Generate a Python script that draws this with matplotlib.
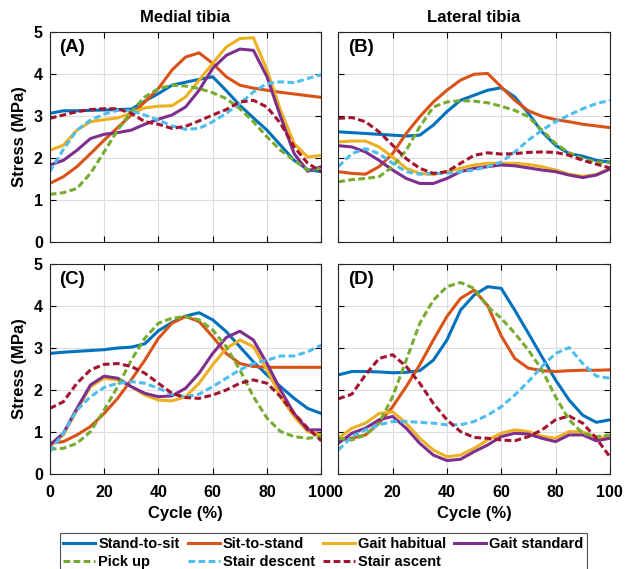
import matplotlib
matplotlib.use("Agg")
import matplotlib.pyplot as plt

plt.rcParams['font.family'] = ['Liberation Sans', 'DejaVu Sans']
plt.rcParams['font.weight'] = 'bold'

cycle = list(range(0, 101, 5))

names = ['Stand-to-sit', 'Sit-to-stand', 'Gait habitual', 'Gait standard',
         'Pick up', 'Stair descent', 'Stair ascent']
colors = ['#0072BD', '#D95319', '#EDB120', '#7E2F8E', '#77AC30', '#4DBEEE', '#A2142F']
styles = ['-', '-', '-', '-', '--', '--', '--']

# (A) medial tibia, top row
med_a = [
    [3.06, 3.12, 3.12, 3.13, 3.14, 3.15, 3.16, 3.35, 3.53, 3.73, 3.80, 3.87, 3.93, 3.60, 3.25, 2.95, 2.66, 2.30, 1.94, 1.72, 1.67],
    [1.39, 1.55, 1.79, 2.10, 2.42, 2.72, 3.02, 3.33, 3.65, 4.09, 4.40, 4.50, 4.25, 3.93, 3.73, 3.66, 3.61, 3.56, 3.52, 3.48, 3.44],
    [2.18, 2.30, 2.66, 2.86, 2.91, 2.95, 3.06, 3.19, 3.23, 3.24, 3.45, 3.85, 4.25, 4.64, 4.84, 4.86, 4.09, 3.13, 2.34, 2.02, 2.06],
    [1.83, 1.94, 2.18, 2.46, 2.56, 2.60, 2.66, 2.80, 2.92, 3.02, 3.21, 3.61, 4.13, 4.44, 4.59, 4.56, 3.93, 2.98, 2.10, 1.68, 1.79],
    [1.13, 1.17, 1.27, 1.63, 2.14, 2.66, 3.10, 3.45, 3.65, 3.73, 3.71, 3.65, 3.55, 3.41, 3.17, 2.86, 2.50, 2.18, 1.94, 1.71, 1.75],
    [1.67, 2.20, 2.66, 2.90, 3.04, 3.13, 3.12, 3.02, 2.90, 2.76, 2.68, 2.70, 2.86, 3.06, 3.29, 3.57, 3.77, 3.81, 3.79, 3.89, 3.98],
    [2.94, 3.02, 3.10, 3.15, 3.17, 3.17, 3.06, 2.86, 2.80, 2.70, 2.75, 2.88, 3.02, 3.15, 3.33, 3.37, 3.21, 2.82, 2.26, 1.87, 1.67],
]

# (B) lateral tibia, top row
lat_b = [
    [2.62, 2.60, 2.58, 2.56, 2.54, 2.52, 2.54, 2.78, 3.10, 3.37, 3.49, 3.61, 3.67, 3.45, 3.06, 2.62, 2.30, 2.10, 2.04, 1.94, 1.90],
    [1.67, 1.63, 1.61, 1.79, 2.10, 2.58, 2.98, 3.33, 3.61, 3.85, 3.99, 4.01, 3.69, 3.37, 3.12, 2.99, 2.91, 2.86, 2.80, 2.76, 2.72],
    [2.38, 2.40, 2.40, 2.26, 2.02, 1.75, 1.63, 1.60, 1.67, 1.75, 1.83, 1.87, 1.87, 1.87, 1.84, 1.79, 1.71, 1.61, 1.56, 1.60, 1.75],
    [2.29, 2.26, 2.14, 1.94, 1.71, 1.51, 1.39, 1.39, 1.51, 1.67, 1.75, 1.79, 1.83, 1.81, 1.76, 1.71, 1.67, 1.59, 1.53, 1.59, 1.73],
    [1.43, 1.48, 1.51, 1.55, 1.79, 2.18, 2.74, 3.21, 3.33, 3.36, 3.35, 3.31, 3.23, 3.13, 2.98, 2.66, 2.34, 2.12, 1.98, 1.90, 1.88],
    [1.79, 2.10, 2.22, 2.10, 1.87, 1.67, 1.61, 1.63, 1.63, 1.67, 1.71, 1.79, 1.90, 2.14, 2.42, 2.66, 2.86, 3.02, 3.17, 3.29, 3.37],
    [2.94, 2.96, 2.86, 2.62, 2.30, 1.98, 1.75, 1.63, 1.67, 1.87, 2.06, 2.12, 2.09, 2.10, 2.13, 2.14, 2.13, 2.06, 1.94, 1.85, 1.76],
]

# (C) medial tibia, bottom row
med_c = [
    [2.87, 2.90, 2.92, 2.94, 2.96, 3.00, 3.02, 3.10, 3.41, 3.61, 3.76, 3.84, 3.67, 3.39, 3.03, 2.67, 2.36, 2.08, 1.80, 1.56, 1.44],
    [0.73, 0.77, 0.93, 1.13, 1.44, 1.80, 2.24, 2.71, 3.23, 3.59, 3.75, 3.63, 3.27, 2.87, 2.63, 2.56, 2.54, 2.54, 2.54, 2.54, 2.54],
    [0.65, 0.93, 1.52, 2.08, 2.28, 2.24, 2.08, 1.88, 1.76, 1.74, 1.84, 2.16, 2.60, 2.99, 3.19, 3.03, 2.48, 1.84, 1.37, 1.01, 0.93],
    [0.69, 0.97, 1.56, 2.12, 2.33, 2.28, 2.08, 1.92, 1.84, 1.86, 2.04, 2.40, 2.87, 3.25, 3.40, 3.19, 2.63, 2.00, 1.44, 1.05, 1.05],
    [0.59, 0.61, 0.73, 1.01, 1.52, 2.08, 2.71, 3.23, 3.59, 3.71, 3.75, 3.67, 3.43, 3.03, 2.48, 1.84, 1.33, 1.01, 0.89, 0.85, 0.89],
    [0.53, 0.97, 1.52, 1.84, 2.06, 2.16, 2.20, 2.16, 2.04, 1.90, 1.84, 1.90, 2.08, 2.28, 2.48, 2.63, 2.71, 2.81, 2.81, 2.91, 3.07],
    [1.56, 1.72, 2.16, 2.48, 2.61, 2.63, 2.56, 2.40, 2.16, 1.92, 1.82, 1.80, 1.88, 2.00, 2.16, 2.24, 2.16, 1.84, 1.44, 1.09, 0.79],
]

# (D) lateral tibia, bottom row
lat_d = [
    [2.36, 2.44, 2.44, 2.43, 2.41, 2.42, 2.46, 2.71, 3.19, 3.90, 4.26, 4.46, 4.42, 3.90, 3.35, 2.79, 2.24, 1.76, 1.40, 1.23, 1.29],
    [0.81, 0.85, 0.93, 1.21, 1.60, 2.08, 2.60, 3.19, 3.75, 4.18, 4.38, 4.01, 3.29, 2.75, 2.52, 2.46, 2.44, 2.46, 2.47, 2.47, 2.48],
    [0.85, 1.09, 1.21, 1.44, 1.48, 1.21, 0.85, 0.57, 0.41, 0.45, 0.61, 0.81, 0.97, 1.05, 1.01, 0.90, 0.85, 1.01, 1.00, 0.87, 0.89],
    [0.73, 0.97, 1.09, 1.29, 1.37, 1.09, 0.73, 0.45, 0.32, 0.35, 0.53, 0.69, 0.89, 0.97, 0.95, 0.85, 0.77, 0.93, 0.93, 0.79, 0.85],
    [0.85, 0.81, 0.93, 1.21, 1.84, 2.71, 3.59, 4.14, 4.46, 4.56, 4.42, 3.98, 3.71, 3.35, 2.95, 2.48, 1.84, 1.29, 0.97, 0.89, 0.93],
    [0.57, 0.89, 1.05, 1.17, 1.25, 1.25, 1.23, 1.21, 1.17, 1.17, 1.25, 1.40, 1.60, 1.88, 2.20, 2.56, 2.87, 3.01, 2.63, 2.33, 2.28],
    [1.79, 1.90, 2.36, 2.75, 2.84, 2.56, 2.16, 1.68, 1.29, 1.01, 0.87, 0.85, 0.81, 0.79, 0.89, 1.05, 1.29, 1.38, 1.21, 0.85, 0.41],
]

panels = [med_a, lat_b, med_c, lat_d]
letters = ['(A)', '(B)', '(C)', '(D)']

fig = plt.figure(figsize=(6.3, 5.69), dpi=100)
rects = [
    [0.079, 0.575, 0.431, 0.369],
    [0.537, 0.575, 0.431, 0.369],
    [0.079, 0.167, 0.431, 0.369],
    [0.537, 0.167, 0.431, 0.369],
]

handles = []
for i, (data, rect) in enumerate(zip(panels, rects)):
    ax = fig.add_axes(rect)
    for j, series in enumerate(data):
        ln, = ax.plot(cycle, series, color=colors[j], linestyle=styles[j],
                      linewidth=2.2, label=names[j])
        if styles[j] == '--':
            ln.set_dashes((2.2, 1.1))
        if i == 0:
            handles.append(ln)
    ax.set_xlim(0, 100)
    ax.set_ylim(0, 5)
    ax.set_xticks(range(0, 101, 20))
    ax.set_yticks(range(0, 6))
    ax.grid(True, color='#dcdcdc', linewidth=0.8)
    ax.tick_params(direction='in', top=True, right=True, labelsize=11.5,
                   length=4, width=0.8, pad=5)
    ax.tick_params(axis='x', pad=8)
    for lab in ax.get_xticklabels() + ax.get_yticklabels():
        lab.set_fontweight('bold')
    for sp in ax.spines.values():
        sp.set_color('#262626')
        sp.set_linewidth(0.8)
    ax.text(0.035, 0.965, letters[i], transform=ax.transAxes, fontsize=13.5,
            fontweight='bold', va='top', ha='left')
    if i < 2:
        ax.set_xticklabels([])
        ax.set_title(['Medial tibia', 'Lateral tibia'][i], fontsize=12,
                     fontweight='bold', pad=7)
    else:
        ax.set_xlabel('Cycle (%)', fontsize=12, fontweight='bold', labelpad=4)
    if i % 2 == 1:
        ax.set_yticklabels([])
    else:
        ax.set_ylabel('Stress (MPa)', fontsize=12, fontweight='bold', labelpad=5)

order = [0, 4, 1, 5, 2, 6, 3]
leg = fig.legend([handles[k] for k in order], [names[k] for k in order],
                 loc='upper center', bbox_to_anchor=(0.513, 0.076), ncol=4,
                 fontsize=10.5, frameon=True, fancybox=False, handlelength=2.2,
                 handletextpad=0.2, columnspacing=0.55, labelspacing=0.3,
                 borderpad=0.25, edgecolor='#262626')
leg.get_frame().set_linewidth(0.8)
for t in leg.get_texts():
    t.set_fontweight('bold')

fig.savefig('out.png', dpi=100)
